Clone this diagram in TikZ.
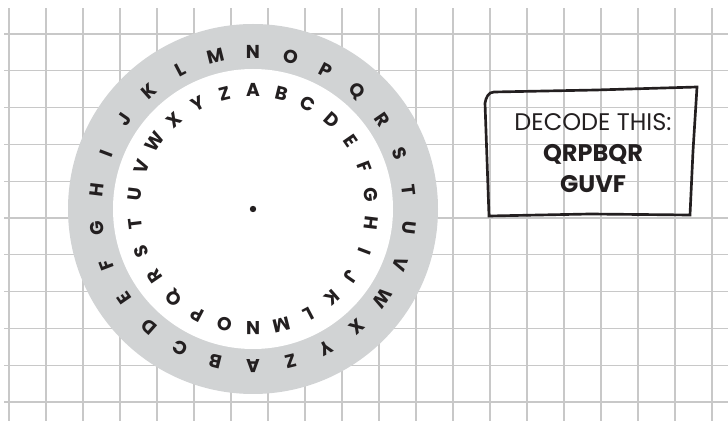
\documentclass[tikz,border=0pt]{standalone}
\usepackage{fontspec}
\setmainfont{Poppins}
\usetikzlibrary{positioning}
\definecolor{gridgray}{RGB}{200,200,200}
\definecolor{ringgray}{RGB}{209,211,212}
\definecolor{ink}{RGB}{35,31,32}

\begin{document}
\begin{tikzpicture}[x=0.75pt,y=0.75pt,font=\bfseries\fontsize{14}{14}\selectfont,
  letter/.style={text=ink,inner sep=0pt}]
\useasboundingbox (0,0) rectangle (728,421);
% grid paper
\foreach \i in {0,...,19} \draw[gridgray,line width=1] (9+37*\i,0)--(9+37*\i,413);
\foreach \j in {0,...,10} \draw[gridgray,line width=1] (4,387-36.8*\j)--(728,387-36.8*\j);
% wheel
\coordinate (c) at (253,212);
\fill[ringgray] (c) circle (185);
\fill[white] (c) circle (140);
\fill[ink] (c) circle (3.2);
\foreach \l [count=\k from 0] in {A,...,Z}{
  \pgfmathsetmacro\ao{90-(\k-13)*360/26}
  \pgfmathsetmacro\ai{90-\k*360/26}
  \path (c) ++(\ao:157) node[letter,rotate=\ao-90] (o\l) {\l};
  \path (c) ++(\ai:119) node[letter,rotate=\ai-90] (i\l) {\l};
}
% message
\draw[ink,line width=2] (485,318) to[out=80,in=180] (494,329) -- (596,331) -- (697,334)
  -- (693,270) -- (690,206) -- (590,207) -- (489,205) -- cycle;
\node[text=ink,align=center,font=\fontsize{18}{23}\selectfont] (msg) at (593,268)
  {DECODE THIS:\\ \bfseries QRPBQR\\ \bfseries GUVF};
\end{tikzpicture}
\end{document}
